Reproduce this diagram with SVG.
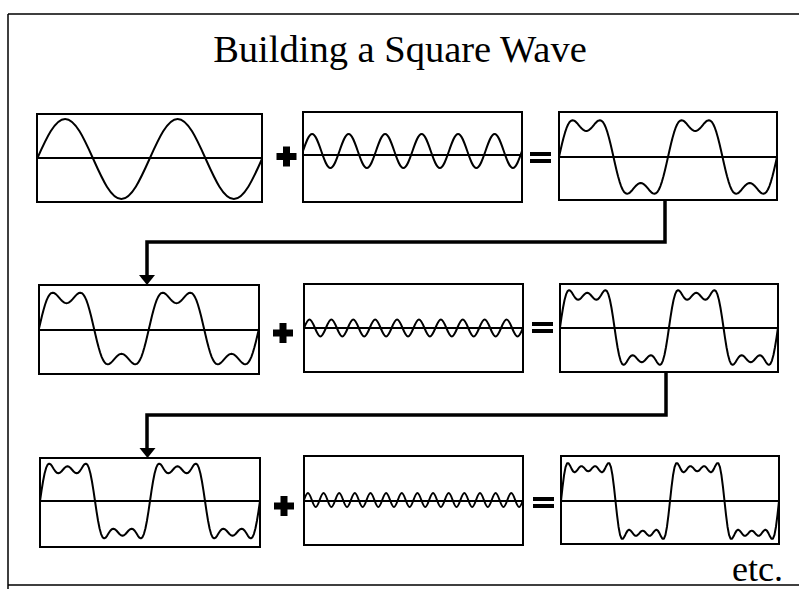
<svg xmlns="http://www.w3.org/2000/svg" xmlns:xlink="http://www.w3.org/1999/xlink" width="799" height="589" viewBox="0 0 799 589">
<style>
.frame{fill:none;stroke:#000;stroke-width:1.5}
.box{fill:#fff;stroke:#000;stroke-width:2}
.axis{stroke:#000;stroke-width:2}
.wave{fill:none;stroke:#000;stroke-width:2;stroke-linejoin:round;stroke-linecap:round}
.nw{fill:none;stroke:#000;stroke-width:2;stroke-linejoin:round;stroke-linecap:round;vector-effect:non-scaling-stroke}
.conn{fill:none;stroke:#000;stroke-width:3.5}
.head{fill:#000}
.op{fill:#000}
.title{font-family:"Liberation Serif","Times New Roman",serif;font-size:38.5px;fill:#000}
.etc{font-family:"Liberation Serif","Times New Roman",serif;font-size:36px;fill:#000}
</style>
<defs>
<path id="f3" class="nw" d="M0,0 L5,-.1735 10,-.3403 15,-.4945 20,-.6307 25,-.7446 30,-.8333 35,-.8956 40,-.9315 45,-.9428 50,-.9327 55,-.9055 60,-.866 65,-.82 70,-.773 75,-.7302 80,-.6961 85,-.6742 90,-.6667 95,-.6742 100,-.6961 105,-.7302 110,-.773 115,-.82 120,-.866 125,-.9055 130,-.9327 135,-.9428 140,-.9315 145,-.8956 150,-.8333 155,-.7446 160,-.6307 165,-.4945 170,-.3403 175,-.1735 180,0 185,.1735 190,.3403 195,.4945 200,.6307 205,.7446 210,.8333 215,.8956 220,.9315 225,.9428 230,.9327 235,.9055 240,.866 245,.82 250,.773 255,.7302 260,.6961 265,.6742 270,.6667 275,.6742 280,.6961 285,.7302 290,.773 295,.82 300,.866 305,.9055 310,.9327 315,.9428 320,.9315 325,.8956 330,.8333 335,.7446 340,.6307 345,.4945 350,.3403 355,.1735 360,0"/>
<path id="f5" class="nw" d="M0,0 L5,-.258 10,-.4935 15,-.6877 20,-.8277 25,-.9084 30,-.9333 35,-.913 40,-.8631 45,-.8014 50,-.7448 55,-.7063 60,-.6928 65,-.7053 70,-.7383 75,-.782 80,-.8247 85,-.8555 90,-.8667 95,-.8555 100,-.8247 105,-.782 110,-.7383 115,-.7053 120,-.6928 125,-.7063 130,-.7448 135,-.8014 140,-.8631 145,-.913 150,-.9333 155,-.9084 160,-.8277 165,-.6877 170,-.4935 175,-.258 180,0 185,.258 190,.4935 195,.6877 200,.8277 205,.9084 210,.9333 215,.913 220,.8631 225,.8014 230,.7448 235,.7063 240,.6928 245,.7053 250,.7383 255,.782 260,.8247 265,.8555 270,.8667 275,.8555 280,.8247 285,.782 290,.7383 295,.7053 300,.6928 305,.7063 310,.7448 315,.8014 320,.8631 325,.913 330,.9333 335,.9084 340,.8277 345,.6877 350,.4935 355,.258 360,0"/>
<path id="f7" class="nw" d="M0,0 L5,-.3399 10,-.6277 15,-.8257 20,-.9195 25,-.9209 30,-.8619 35,-.7835 40,-.7224 45,-.7004 50,-.72 55,-.7667 60,-.8165 65,-.8476 70,-.8477 75,-.819 80,-.7758 85,-.7385 90,-.7238 95,-.7385 100,-.7758 105,-.819 110,-.8477 115,-.8476 120,-.8165 125,-.7667 130,-.72 135,-.7004 140,-.7224 145,-.7835 150,-.8619 155,-.9209 160,-.9195 165,-.8257 170,-.6277 175,-.3399 180,0 185,.3399 190,.6277 195,.8257 200,.9195 205,.9209 210,.8619 215,.7835 220,.7224 225,.7004 230,.72 235,.7667 240,.8165 245,.8476 250,.8477 255,.819 260,.7758 265,.7385 270,.7238 275,.7385 280,.7758 285,.819 290,.8477 295,.8476 300,.8165 305,.7667 310,.72 315,.7004 320,.7224 325,.7835 330,.8619 335,.9209 340,.9195 345,.8257 350,.6277 355,.3399 360,0"/>
<path id="plus" class="op" d="M-3.5,-10 h7 v6.5 h6.5 v7 h-6.5 v6.5 h-7 v-6.5 h-6.5 v-7 h6.5 z"/>
<g id="eq" class="op"><rect x="0" y="0" width="21" height="4"/><rect x="0" y="7" width="21" height="4"/></g>
</defs>

<g id="frame">
<path class="frame" d="M8,14 H799 M8,14 V589 M8,585 H799"/>
</g>

<g id="title"><text class="title" x="400" y="62" text-anchor="middle">Building a Square Wave</text></g>

<g id="connectors">
<path class="conn" d="M665,200 V242 H147 V276"/>
<polygon class="head" points="139,275 155,275 147,285"/>
<path class="conn" d="M666,372 V415 H147 V449"/>
<polygon class="head" points="139.5,448 155.5,448 147.5,458"/>
</g>

<g id="row1-fundamental">
<rect class="box" x="37" y="114" width="225" height="88"/>
<line class="axis" x1="37" y1="158" x2="262" y2="158"/>
<path class="wave" d="M37,159 c9.171,-20.492 17.947,-40 28.125,-40 s18.953,19.508 28.125,40 s17.947,40 28.125,40 s18.953,-19.508 28.125,-40 s17.947,-40 28.125,-40 s18.953,19.508 28.125,40 s17.947,40 28.125,40 s18.953,-19.508 28.125,-40"/>
</g>
<g id="row1-plus"><use xlink:href="#plus" x="286.5" y="156.5"/></g>
<g id="row1-third">
<rect class="box" x="303" y="112" width="219" height="90"/>
<line class="axis" x1="303" y1="155" x2="522" y2="155"/>
<path class="wave" d="M303,151 c2.976,-8.709 5.823,-17 9.125,-17 s6.149,8.291 9.125,17 s5.823,17 9.125,17 s6.149,-8.291 9.125,-17 s5.823,-17 9.125,-17 s6.149,8.291 9.125,17 s5.823,17 9.125,17 s6.149,-8.291 9.125,-17 s5.823,-17 9.125,-17 s6.149,8.291 9.125,17 s5.823,17 9.125,17 s6.149,-8.291 9.125,-17 s5.823,-17 9.125,-17 s6.149,8.291 9.125,17 s5.823,17 9.125,17 s6.149,-8.291 9.125,-17 s5.823,-17 9.125,-17 s6.149,8.291 9.125,17 s5.823,17 9.125,17 s6.149,-8.291 9.125,-17 s5.823,-17 9.125,-17 s6.149,8.291 9.125,17 s5.823,17 9.125,17 s6.149,-8.291 9.125,-17"/>
</g>
<g id="row1-equals"><use xlink:href="#eq" x="530" y="152"/></g>
<g id="row1-sum">
<rect class="box" x="559" y="112" width="218" height="88"/>
<line class="axis" x1="559" y1="157" x2="777" y2="157"/>
<use xlink:href="#f3" transform="translate(559,157) scale(0.30278,39)"/>
<use xlink:href="#f3" transform="translate(668,157) scale(0.30278,39)"/>
</g>

<g id="row2-input">
<rect class="box" x="39" y="285" width="220" height="89"/>
<line class="axis" x1="39" y1="330" x2="259" y2="330"/>
<use xlink:href="#f3" transform="translate(39,328.5) scale(0.30556,38)"/>
<use xlink:href="#f3" transform="translate(149,328.5) scale(0.30556,38)"/>
</g>
<g id="row2-plus"><use xlink:href="#plus" x="283" y="333"/></g>
<g id="row2-fifth">
<rect class="box" x="304" y="284" width="219" height="88"/>
<line class="axis" x1="304" y1="328" x2="523" y2="328"/>
<path class="wave" d="M304,328 c1.785,-4.355 3.494,-8.5 5.475,-8.5 s3.69,4.145 5.475,8.5 s3.494,8.5 5.475,8.5 s3.69,-4.145 5.475,-8.5 s3.494,-8.5 5.475,-8.5 s3.69,4.145 5.475,8.5 s3.494,8.5 5.475,8.5 s3.69,-4.145 5.475,-8.5 s3.494,-8.5 5.475,-8.5 s3.69,4.145 5.475,8.5 s3.494,8.5 5.475,8.5 s3.69,-4.145 5.475,-8.5 s3.494,-8.5 5.475,-8.5 s3.69,4.145 5.475,8.5 s3.494,8.5 5.475,8.5 s3.69,-4.145 5.475,-8.5 s3.494,-8.5 5.475,-8.5 s3.69,4.145 5.475,8.5 s3.494,8.5 5.475,8.5 s3.69,-4.145 5.475,-8.5 s3.494,-8.5 5.475,-8.5 s3.69,4.145 5.475,8.5 s3.494,8.5 5.475,8.5 s3.69,-4.145 5.475,-8.5 s3.494,-8.5 5.475,-8.5 s3.69,4.145 5.475,8.5 s3.494,8.5 5.475,8.5 s3.69,-4.145 5.475,-8.5 s3.494,-8.5 5.475,-8.5 s3.69,4.145 5.475,8.5 s3.494,8.5 5.475,8.5 s3.69,-4.145 5.475,-8.5 s3.494,-8.5 5.475,-8.5 s3.69,4.145 5.475,8.5 s3.494,8.5 5.475,8.5 s3.69,-4.145 5.475,-8.5 s3.494,-8.5 5.475,-8.5 s3.69,4.145 5.475,8.5 s3.494,8.5 5.475,8.5 s3.69,-4.145 5.475,-8.5"/>
</g>
<g id="row2-equals"><use xlink:href="#eq" x="532" y="322"/></g>
<g id="row2-sum">
<rect class="box" x="560" y="284" width="218" height="88"/>
<line class="axis" x1="560" y1="328" x2="778" y2="328"/>
<use xlink:href="#f5" transform="translate(560,327.5) scale(0.30278,40)"/>
<use xlink:href="#f5" transform="translate(669,327.5) scale(0.30278,40)"/>
</g>

<g id="row3-input">
<rect class="box" x="40" y="458" width="220" height="89"/>
<line class="axis" x1="40" y1="501" x2="260" y2="501"/>
<use xlink:href="#f5" transform="translate(40,501) scale(0.30556,40)"/>
<use xlink:href="#f5" transform="translate(150,501) scale(0.30556,40)"/>
</g>
<g id="row3-plus"><use xlink:href="#plus" x="284" y="506"/></g>
<g id="row3-seventh">
<rect class="box" x="304" y="456" width="219" height="89"/>
<line class="axis" x1="304" y1="501" x2="523" y2="501"/>
<path class="wave" d="M304,500 c1.275,-3.586 2.496,-7 3.911,-7 s2.636,3.414 3.911,7 s2.496,7 3.911,7 s2.636,-3.414 3.911,-7 s2.496,-7 3.911,-7 s2.636,3.414 3.911,7 s2.496,7 3.911,7 s2.636,-3.414 3.911,-7 s2.496,-7 3.911,-7 s2.636,3.414 3.911,7 s2.496,7 3.911,7 s2.636,-3.414 3.911,-7 s2.496,-7 3.911,-7 s2.636,3.414 3.911,7 s2.496,7 3.911,7 s2.636,-3.414 3.911,-7 s2.496,-7 3.911,-7 s2.636,3.414 3.911,7 s2.496,7 3.911,7 s2.636,-3.414 3.911,-7 s2.496,-7 3.911,-7 s2.636,3.414 3.911,7 s2.496,7 3.911,7 s2.636,-3.414 3.911,-7 s2.496,-7 3.911,-7 s2.636,3.414 3.911,7 s2.496,7 3.911,7 s2.636,-3.414 3.911,-7 s2.496,-7 3.911,-7 s2.636,3.414 3.911,7 s2.496,7 3.911,7 s2.636,-3.414 3.911,-7 s2.496,-7 3.911,-7 s2.636,3.414 3.911,7 s2.496,7 3.911,7 s2.636,-3.414 3.911,-7 s2.496,-7 3.911,-7 s2.636,3.414 3.911,7 s2.496,7 3.911,7 s2.636,-3.414 3.911,-7 s2.496,-7 3.911,-7 s2.636,3.414 3.911,7 s2.496,7 3.911,7 s2.636,-3.414 3.911,-7 s2.496,-7 3.911,-7 s2.636,3.414 3.911,7 s2.496,7 3.911,7 s2.636,-3.414 3.911,-7 s2.496,-7 3.911,-7 s2.636,3.414 3.911,7 s2.496,7 3.911,7 s2.636,-3.414 3.911,-7 s2.496,-7 3.911,-7 s2.636,3.414 3.911,7 s2.496,7 3.911,7 s2.636,-3.414 3.911,-7"/>
</g>
<g id="row3-equals"><use xlink:href="#eq" x="533" y="497"/></g>
<g id="row3-sum">
<rect class="box" x="561" y="456" width="218" height="88"/>
<line class="axis" x1="561" y1="501" x2="779" y2="501"/>
<use xlink:href="#f7" transform="translate(561,501) scale(0.30278,41)"/>
<use xlink:href="#f7" transform="translate(670,501) scale(0.30278,41)"/>
</g>

<g id="etc"><text class="etc" x="783" y="581" text-anchor="end">etc.</text></g>
</svg>
